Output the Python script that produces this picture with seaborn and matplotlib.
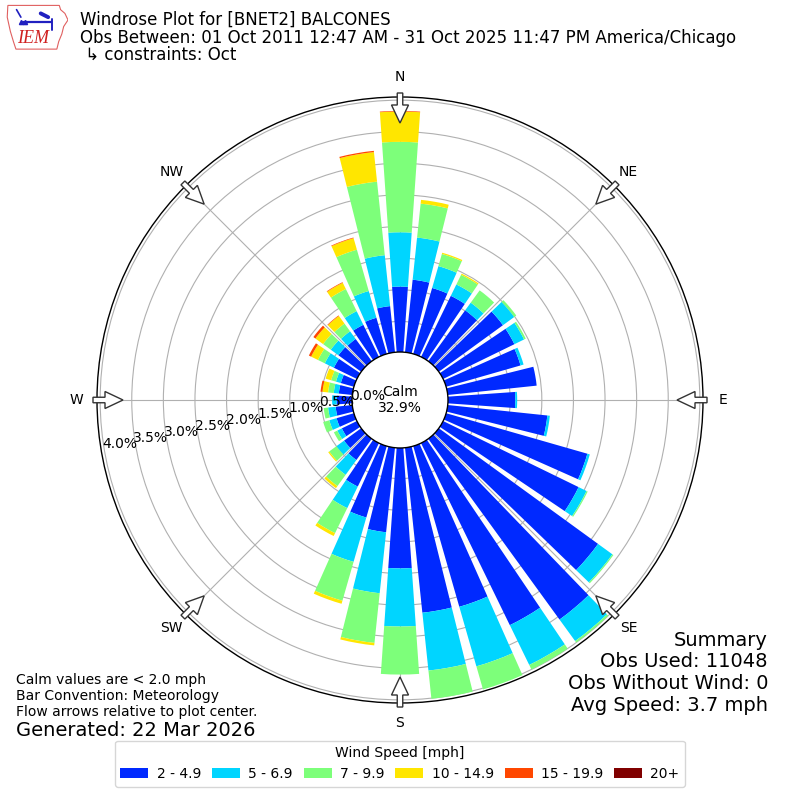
import numpy as np
import matplotlib
matplotlib.use("Agg")
import matplotlib.pyplot as plt
import seaborn as sns
from matplotlib.patches import Circle, FancyArrow, Patch, Polygon
from matplotlib.transforms import offset_copy

# direction bins (degrees, meteorological convention)
directions = np.arange(0, 360, 10)
speed_bins = ["2 - 4.9", "5 - 6.9", "7 - 9.9", "10 - 14.9", "15 - 19.9", "20+"]

# frequency [%] per direction for each speed bin
pct_2_5 = [1.05, 1.17, 1.10, 1.09, 1.01, 1.27, 1.27, 1.24, 1.43, 1.08,
           1.60, 2.34, 2.40, 3.13, 3.55, 3.22, 2.66, 2.64, 1.92, 1.36,
           1.19, 0.78, 0.43, 0.35, 0.28, 0.30, 0.28, 0.26, 0.23, 0.23,
           0.42, 0.46, 0.45, 0.58, 0.61, 0.75]
pct_5_7 = [0.86, 0.67, 0.36, 0.20, 0.15, 0.22, 0.17, 0.05, 0.00, 0.03,
           0.04, 0.04, 0.14, 0.28, 0.42, 0.70, 0.98, 0.92, 0.92, 0.97,
           0.73, 0.38, 0.29, 0.15, 0.08, 0.12, 0.12, 0.07, 0.08, 0.08,
           0.16, 0.15, 0.15, 0.24, 0.44, 0.81]
pct_7_10 = [1.43, 0.54, 0.20, 0.17, 0.24, 0.04, 0.03, 0.00, 0.00, 0.00,
            0.00, 0.00, 0.02, 0.02, 0.03, 0.08, 0.38, 0.45, 0.76, 0.79,
            0.64, 0.44, 0.22, 0.14, 0.06, 0.10, 0.07, 0.00, 0.09, 0.08,
            0.12, 0.15, 0.15, 0.39, 0.68, 1.17]
pct_10_15 = [0.48, 0.06, 0.02, 0.02, 0.00, 0.00, 0.00, 0.00, 0.00, 0.00,
             0.00, 0.00, 0.00, 0.00, 0.00, 0.00, 0.00, 0.00, 0.00, 0.04,
             0.05, 0.05, 0.04, 0.02, 0.00, 0.00, 0.00, 0.00, 0.09, 0.09,
             0.12, 0.15, 0.15, 0.11, 0.19, 0.47]
pct_15_20 = [0.01, 0.00, 0.00, 0.00, 0.00, 0.00, 0.00, 0.00, 0.00, 0.00,
             0.00, 0.00, 0.00, 0.00, 0.00, 0.00, 0.00, 0.00, 0.00, 0.00,
             0.00, 0.00, 0.00, 0.00, 0.00, 0.00, 0.00, 0.00, 0.03, 0.00,
             0.04, 0.04, 0.01, 0.01, 0.01, 0.02]
pct_20_up = [0.0] * 36

calm_pct = 32.9
rticks = [0.0, 0.5, 1.0, 1.5, 2.0, 2.5, 3.0, 3.5, 4.0]
compass = ["N", "NE", "E", "SE", "S", "SW", "W", "NW"]

sns.set_style("white")
plt.rcParams["font.family"] = ["DejaVu Sans"]
plt.rcParams["text.color"] = "black"
plt.rcParams["xtick.color"] = "black"
plt.rcParams["ytick.color"] = "black"
plt.rcParams["axes.labelcolor"] = "black"

jet = matplotlib.colormaps["jet"]
palette = sns.color_palette([jet(v) for v in np.linspace(0, 1, 7)[1:]])

fig = plt.figure(figsize=(8, 8), dpi=100)
ax = fig.add_axes([97 / 800, 97 / 800, 606 / 800, 606 / 800], projection="polar")
ax.set_theta_zero_location("N")
ax.set_theta_direction(-1)

theta = np.radians(directions)
width = np.radians(8)
bottom = np.zeros(len(directions))
series = [pct_2_5, pct_5_7, pct_7_10, pct_10_15, pct_15_20, pct_20_up]
for vals, color in zip(series, palette):
    vals = np.asarray(vals)
    ax.bar(theta, vals, width=width, bottom=bottom, color=color, linewidth=0, zorder=1)
    bottom += vals

ax.set_ylim(0, 4.05)
ax.set_rorigin(-0.744)
ax.set_yticks(rticks)
ax.set_yticklabels([])
ax.tick_params(axis="y", length=0)
ax.set_thetagrids(np.arange(0, 360, 45), labels=compass, fontsize=10, color="black")
ax.tick_params(axis="x", pad=4)
ax.grid(True, color="#b0b0b0", linewidth=0.8)
ax.spines["polar"].set_color("black")
ax.spines["polar"].set_linewidth(1.0)

# radial labels
lab_tr = offset_copy(ax.transData, fig=fig, x=14, y=13, units="dots")
for r in rticks:
    ax.text(np.radians(259), r, f"{r:.1f}%", transform=lab_tr, ha="center",
            va="center", fontsize=10, zorder=7)

# calm circle
ax.add_patch(Circle((0.5, 0.5), 48 / 606, transform=ax.transAxes, facecolor="white",
                    edgecolor="black", linewidth=1.0, zorder=5, clip_on=False))
ax.text(0.5, 0.5, f"Calm\n{calm_pct}%", transform=ax.transAxes, ha="center",
        va="center", fontsize=10, zorder=6)

# flow arrows at the rim
for a in np.radians(np.arange(0, 360, 45)):
    ux, uy = np.sin(a), np.cos(a)
    r0 = 307 / 606
    ax.add_patch(FancyArrow(0.5 + r0 * ux, 0.5 + r0 * uy, -30 / 606 * ux, -30 / 606 * uy,
                            width=5.5 / 606, head_width=17 / 606, head_length=18 / 606,
                            length_includes_head=True, transform=ax.transAxes,
                            facecolor="white", edgecolor="#333333", linewidth=1.0,
                            zorder=8, clip_on=False))

# header
fig.text(80 / 800, 1 - 20 / 800, "Windrose Plot for [BNET2] BALCONES", fontsize=12, va="center")
fig.text(80 / 800, 1 - 38 / 800,
         "Obs Between: 01 Oct 2011 12:47 AM - 31 Oct 2025 11:47 PM America/Chicago",
         fontsize=12, va="center")
fig.text(80 / 800, 1 - 55 / 800, " \u21b3 constraints: Oct", fontsize=12, va="center")

# logo (rough IEM badge)
lax = fig.add_axes([6 / 800, 1 - 51 / 800, 62 / 800, 47 / 800])
lax.set_xlim(0, 1)
lax.set_ylim(0, 1)
lax.axis("off")
iowa = [(0.03, 0.97), (0.86, 0.97), (0.88, 0.88), (0.95, 0.8), (1.0, 0.66), (0.93, 0.52),
        (0.9, 0.36), (0.85, 0.2), (0.82, 0.04), (0.16, 0.04), (0.12, 0.2), (0.07, 0.42),
        (0.02, 0.72), (0.03, 0.97)]
lax.add_patch(Polygon(iowa, closed=True, fill=False, edgecolor="#e06060", linewidth=0.8))
lax.plot([0.27, 0.72], [0.62, 0.62], color="#2020c0", linewidth=1.6)
lax.plot([0.24, 0.3], [0.62, 0.62], marker="^", markersize=3, color="#2020c0", linewidth=0)
lax.plot([0.17, 0.24], [0.88, 0.72], color="#2020c0", linewidth=1.2)
lax.plot([0.56, 0.68], [0.8, 0.72], color="#2020c0", linewidth=2.8)
lax.plot([0.74, 0.74], [0.45, 0.68], color="#2020c0", linewidth=1.4)
lax.text(0.44, 0.26, "IEM", color="#d02020", fontsize=13, style="italic",
         family="Liberation Serif", ha="center", va="center")

# footnotes
fig.text(16 / 800, 1 - 680 / 800, "Calm values are < 2.0 mph", fontsize=10, va="center")
fig.text(16 / 800, 1 - 696 / 800, "Bar Convention: Meteorology", fontsize=10, va="center")
fig.text(16 / 800, 1 - 712 / 800, "Flow arrows relative to plot center.", fontsize=10, va="center")
fig.text(16 / 800, 1 - 730 / 800, "Generated: 22 Mar 2026", fontsize=14, va="center")

summary = ["Summary", "Obs Used: 11048", "Obs Without Wind: 0", "Avg Speed: 3.7 mph"]
for i, line in enumerate(summary):
    fig.text(768 / 800, 1 - (640 + i * 21.7) / 800, line, fontsize=14, ha="right", va="center")

handles = [Patch(facecolor=c, edgecolor="none") for c in palette]
fig.legend(handles, speed_bins, loc="lower center", bbox_to_anchor=(0.5, 0.008), ncol=6,
           title="Wind Speed [mph]", fontsize=10, title_fontsize=10, frameon=True,
           columnspacing=0.8, handletextpad=0.6)

fig.savefig("out.png", dpi=100)
plt.close(fig)
